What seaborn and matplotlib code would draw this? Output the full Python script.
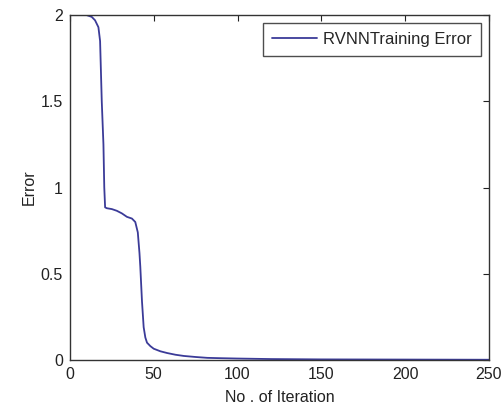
import numpy as np
import pandas as pd
import matplotlib
matplotlib.use("Agg")
import matplotlib.pyplot as plt
import seaborn as sns

# Valeurs
iteration = [0, 5, 10, 13, 15, 17, 18, 19, 20, 20.5, 21, 22, 25, 28, 31, 34, 37, 39, 40.5, 41.5, 42, 43,
             44, 45, 46, 48, 50, 54, 58, 63, 68, 75, 82, 90, 100, 120, 150, 200, 250]
error = [2.0, 2.0, 2.0, 1.99, 1.97, 1.93, 1.85, 1.5, 1.25, 1.0, 0.885, 0.88, 0.875, 0.865, 0.85, 0.83, 0.82, 0.80, 0.74,
         0.62, 0.54, 0.34, 0.19, 0.13, 0.10, 0.08, 0.065, 0.05, 0.04, 0.03, 0.023, 0.017, 0.012, 0.01, 0.008,
         0.005, 0.003, 0.002, 0.001]

df = pd.DataFrame({"iteration": iteration, "error": error})

sns.set_theme(style="white")
plt.rcParams['font.family'] = ['Liberation Sans', 'DejaVu Sans']

fig = plt.figure(figsize=(5.03, 4.09), dpi=100)
ax = fig.add_axes([0.139, 0.12, 0.833, 0.843])

sns.lineplot(data=df, x="iteration", y="error", ax=ax, color="#3b3b98", linewidth=1.3,
             label="RVNNTraining Error")

ax.set_xlim(0, 250)
ax.set_ylim(0, 2)
ax.set_xticks([0, 50, 100, 150, 200, 250])
ax.set_yticks([0, 0.5, 1, 1.5, 2])
ax.set_yticklabels(["0", "0.5", "1", "1.5", "2"])
ax.tick_params(direction="in", top=True, right=True, length=4, width=0.8, labelsize=11.5,
               colors="#222222", pad=5)
for s in ax.spines.values():
    s.set_color("#333333")
    s.set_linewidth(1.0)

ax.set_xlabel("No . of Iteration", fontsize=11.5, color="#222222", labelpad=6)
ax.set_ylabel("Error", fontsize=11.5, color="#222222", labelpad=3)

leg = ax.legend(loc="upper right", fontsize=12, frameon=True, fancybox=False,
                edgecolor="#222222", borderpad=0.55, handlelength=2.7, handletextpad=0.4,
                borderaxespad=0.45)
leg.get_frame().set_linewidth(1.0)

fig.savefig("out.png", dpi=100, facecolor="white")
